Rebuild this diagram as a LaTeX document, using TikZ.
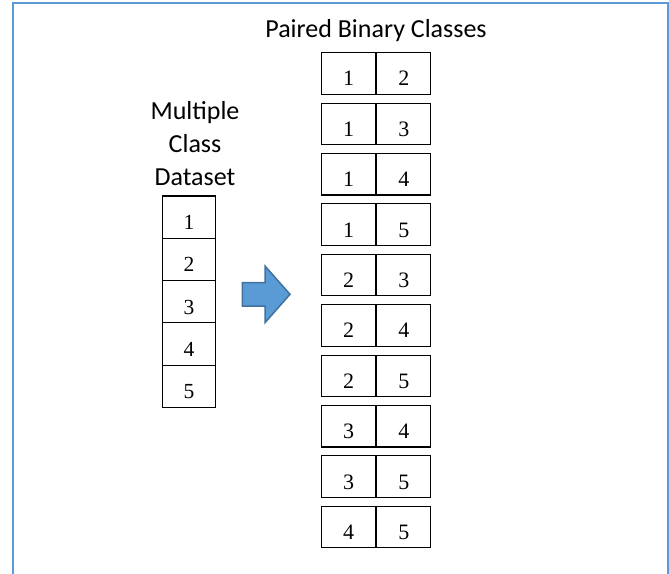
\documentclass[tikz,border=0pt]{standalone}
\usepackage{fontspec}
\setmainfont{Liberation Serif}
\newfontfamily\labfont{Carlito}
\definecolor{frameblue}{HTML}{5B9BD5}
\definecolor{arrowfill}{HTML}{5B9BD5}
\definecolor{arrowline}{HTML}{41719C}
\tikzset{
  pcell/.style={draw=black, line width=1.1pt, inner sep=0pt, minimum width=54pt, minimum height=41.5pt,
    text height=24.8pt, text depth=0pt, font=\fontsize{22}{22}\selectfont},
  lcell/.style={draw=black, line width=1.1pt, inner sep=0pt, minimum width=53.4pt, minimum height=42.3pt,
    text height=25pt, text depth=0pt, font=\fontsize{21.5}{21.5}\selectfont},
  lab/.style={inner sep=0pt, anchor=base, font=\labfont\fontsize{26}{26}\selectfont}
}
\begin{document}
\begin{tikzpicture}[x=1pt,y=-1pt]
\useasboundingbox (0,0) rectangle (669,573);
% frame
\draw[frameblue, line width=2pt] (13,580) -- (13,2.5) -- (667.5,2.5) -- (667.5,580);
% titles
\node[lab] (title) at (376,37) {Paired Binary Classes};
\node[lab] (m1) at (195,119) {Multiple};
\node[lab] (m2) at (195,152) {Class};
\node[lab] (m3) at (195,185) {Dataset};
% left column
\foreach \k [count=\i from 0] in {1,2,3,4,5} {
  \node[lcell] (c\k) at (189, 196+21.15+42.3*\i) {\k};
}
% pairs
\foreach \a/\b [count=\i from 0] in {1/2,1/3,1/4,1/5,2/3,2/4,2/5,3/4,3/5,4/5} {
  \node[pcell] (pl\i) at (348.7, 52.7+20.75+50.4*\i) {\a};
  \node[pcell, anchor=west] (pr\i) at (pl\i.east) {\b};
}
% arrow
\filldraw[fill=arrowfill, draw=arrowline, line width=1.5pt, line join=miter]
  (242.3,282.7) -- (265,282.7) -- (265,266) -- (290,294.3) -- (265,322.7) -- (265,306) -- (242.3,306) -- cycle;
\end{tikzpicture}
\end{document}
